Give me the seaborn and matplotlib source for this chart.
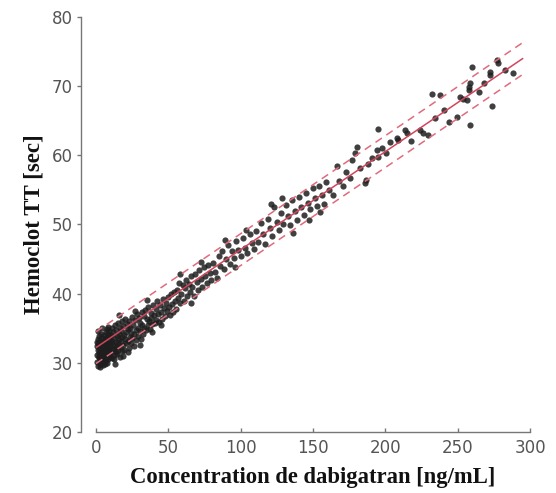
import matplotlib
matplotlib.use("Agg")
import matplotlib.pyplot as plt
import seaborn as sns
import pandas as pd

# ---- data ----
conc_a = [0.5,0.8,1.0,1.2,1.3,1.5,1.6,1.8,2.0,2.1,2.3,2.5,2.6,2.8,3.0,3.1,3.3,3.5,3.6,3.8,4.0,4.1,4.3,4.5,4.6,4.8,5.0,5.1,5.3,5.5,5.6,5.8,6.0,6.2,6.3,6.5,6.7,6.8,7.0,7.2,7.3,7.5,7.7,7.8,8.0,8.2,8.4,8.5,8.7,8.9,9.0,9.2,9.4,9.5,9.7,9.9,3.9,1.1,2.4,5.9,7.9,0.6,4.4,6.6,2.9,8.6]
tt_a = [31.2,32.5,30.1,33.4,31.8,29.6,32.9,30.8,33.9,31.4,32.2,29.9,30.6,33.1,31.0,32.6,34.2,30.3,31.7,32.9,30.9,33.6,31.3,29.7,32.4,30.5,33.2,31.9,34.0,30.7,32.1,31.5,33.5,30.2,32.8,31.1,34.4,33.0,31.6,30.4,32.3,33.8,31.2,30.0,32.7,34.1,31.8,30.6,33.3,32.0,31.4,34.6,30.9,32.5,33.7,31.0,35.0,34.6,30.9,29.8,34.9,33.0,33.0,31.9,29.4,35.2]

conc_b = [10.1,10.3,10.5,10.8,11.0,11.2,11.5,11.7,12.0,12.2,12.4,12.7,13.0,13.2,13.5,13.7,14.0,14.3,14.5,14.8,15.0,15.3,15.5,15.8,16.0,16.3,16.6,16.9,17.2,17.5,17.8,18.0,18.3,18.6,19.0,19.3,19.6,20.0,20.3,20.7,21.0,21.4,21.8,22.2,22.5,22.9,23.3,23.7,24.0,24.4,24.8,12.9,18.9,16.1,22.0]
tt_b = [32.8,31.5,34.0,30.7,33.2,35.1,31.9,32.6,34.4,31.1,33.6,30.5,32.2,35.5,33.0,31.6,34.8,32.5,31.3,33.9,35.8,32.9,31.8,34.2,33.4,30.9,35.0,32.3,34.6,33.1,31.7,36.0,33.8,32.6,35.3,34.0,31.9,33.5,36.3,34.5,32.8,35.6,33.2,34.9,32.1,36.1,33.7,35.0,32.9,34.3,36.6,29.9,31.0,36.9,31.5]

conc_c = [25.2,25.6,26.0,26.5,27.0,27.4,27.9,28.3,28.8,29.2,29.7,30.1,30.6,31.0,31.5,32.0,32.4,33.0,33.5,34.0,34.5,35.0,35.6,36.1,36.7,37.2,37.8,38.3,38.9,39.5,40.0,40.6,41.2,41.8,42.4,43.0,43.6,44.3,45.0,45.6,46.3,47.0,47.7,48.4,49.1,49.7,30.3,39.0,44.8,35.3,26.8]
tt_c = [33.6,35.4,34.1,32.5,36.2,34.8,33.3,37.0,35.1,33.9,36.5,34.6,35.8,33.5,37.3,35.5,34.2,36.8,35.0,37.6,34.7,36.3,35.4,38.0,36.0,34.9,37.2,36.5,35.6,38.4,36.9,35.7,37.8,36.2,38.9,37.1,35.9,38.3,37.4,36.4,39.2,37.9,36.8,38.6,37.5,39.5,32.6,34.4,35.4,39.1,37.5]

conc_d = [50.4,51.0,51.7,52.3,53.0,53.8,54.5,55.2,56.0,56.8,57.5,58.3,59.0,59.8,60.6,61.4,62.3,63.1,64.0,64.9,65.8,66.7,67.6,68.5,69.5,70.4,71.4,72.4,73.4,74.5,75.5,76.6,77.7,78.8,79.8,58.0,66.0,72.9]
tt_d = [38.0,36.9,39.9,38.5,37.4,40.3,38.9,37.8,40.6,39.4,41.5,38.6,40.0,41.2,39.0,40.8,42.0,39.7,41.4,40.2,42.6,41.0,39.6,42.9,41.7,40.5,43.4,42.1,41.0,43.9,42.6,41.5,44.2,43.0,42.0,42.8,38.6,44.6]

conc_e = [81.0,82.3,83.5,84.8,86.0,87.4,88.7,90.0,91.4,92.8,94.2,95.6,97.0,98.5,100.0,101.5,103.0,104.6,106.2,107.8,109.4,96.0,89.0,104.0]
tt_e = [44.5,43.2,42.2,45.5,44.0,46.2,43.6,45.0,47.0,44.3,46.1,45.2,47.6,46.3,45.5,48.0,46.6,45.9,48.6,47.3,46.5,43.9,47.8,49.2]

conc_f = [110.8,112.3,113.8,115.4,117.0,118.6,120.1,121.7,123.2,124.8,126.3,127.9,129.4,131.0,132.6,134.1,135.7,137.3,138.8,140.4,141.9,143.5,145.1,146.6,148.2,149.8,151.3,152.9,154.4,156.0,157.6,159.1,121.0,136.0,147.5,155.0,128.6]
tt_f = [49.1,47.5,50.2,48.6,47.2,50.8,49.5,48.3,52.5,50.4,49.2,51.6,50.0,52.8,51.3,49.9,53.5,52.0,50.7,54.0,52.6,51.4,54.6,53.1,52.2,55.3,53.8,52.7,55.6,54.3,53.0,56.2,53.0,48.7,50.6,51.8,53.9]

conc_g = [161.0,163.5,166.3,168.0,170.5,172.8,175.5,176.7,179.0,180.1,182.5,185.9,188.0,190.5,194.0,195.1,195.1,198.0,200.8,203.5,207.8,209.0,186.5]
tt_g = [55.0,54.2,58.5,56.3,55.5,57.6,56.7,59.3,60.4,61.2,58.2,56.0,58.8,59.6,60.8,59.8,63.8,61.0,60.3,61.9,62.5,62.2,56.5]

conc_h = [213.5,214.7,218.0,224.0,226.2,229.7,232.0,234.3,237.7,244.0,249.3,251.6,253.8,256.2,257.8,258.0,258.5,258.5,259.6,264.9,272.3,272.3,274.0,276.9,278.0,282.6,288.4,268.0,240.5]
tt_h = [63.7,63.3,62.0,63.7,63.2,62.9,68.8,65.4,68.7,64.8,65.6,68.4,68.1,68.0,69.4,69.9,70.5,64.4,72.7,69.2,72.1,71.6,67.1,73.8,73.3,72.4,71.9,70.4,66.5]

# regression line and prediction band
fit_x = [0, 295]
fit_y = [32.2, 74.0]
band_upper = [34.5, 76.3]
band_lower = [29.9, 71.7]

x_ticks = [0, 50, 100, 150, 200, 250, 300]
y_ticks = [20, 30, 40, 50, 60, 70, 80]
x_label = "Concentration de dabigatran [ng/mL]"
y_label = "Hemoclot TT [sec]"

conc = conc_a + conc_b + conc_c + conc_d + conc_e + conc_f + conc_g + conc_h
tt = tt_a + tt_b + tt_c + tt_d + tt_e + tt_f + tt_g + tt_h
df = pd.DataFrame({"conc": conc, "tt": tt})

sns.set_style("white")

fig = plt.figure(figsize=(5.56, 4.93), dpi=100)
ax = fig.add_axes([96 / 556, 61 / 493, 434 / 556, 415 / 493])

sns.scatterplot(data=df, x="conc", y="tt", ax=ax, s=20, color="#1e1e1e",
                alpha=0.85, linewidth=0, clip_on=False, zorder=2)

red = "#d2455c"
sns.lineplot(x=fit_x, y=fit_y, ax=ax, color=red, linewidth=1.1, zorder=3)
sns.lineplot(x=fit_x, y=band_upper, ax=ax, color="#e06b7d", linewidth=1.1,
             zorder=3).lines[-1].set_dashes([5, 3.5])
sns.lineplot(x=fit_x, y=band_lower, ax=ax, color="#e06b7d", linewidth=1.1,
             zorder=3).lines[-1].set_dashes([5, 3.5])

ax.set_xlim(0, 300)
ax.set_ylim(20, 80)
ax.set_xticks(x_ticks)
ax.set_yticks(y_ticks)

for s in ("top", "right"):
    ax.spines[s].set_visible(False)
ax.spines["left"].set_position(("outward", 11))
for s in ("left", "bottom"):
    ax.spines[s].set_color("#777777")
    ax.spines[s].set_linewidth(1.0)

ax.tick_params(axis="y", direction="out", length=3, width=1, color="#777777",
               labelsize=12, labelcolor="#555555", pad=3, left=True)
ax.tick_params(axis="x", direction="in", length=3, width=1, color="#777777",
               labelsize=12, labelcolor="#555555", pad=5, bottom=True)

ax.set_xlabel(x_label, fontsize=16.3, fontweight="bold", family="Liberation Serif",
              color="#111111", labelpad=7)
ax.set_ylabel(y_label, fontsize=16.5, fontweight="bold", family="Liberation Serif",
              color="#111111", labelpad=5)

fig.savefig("out.png", dpi=100)
